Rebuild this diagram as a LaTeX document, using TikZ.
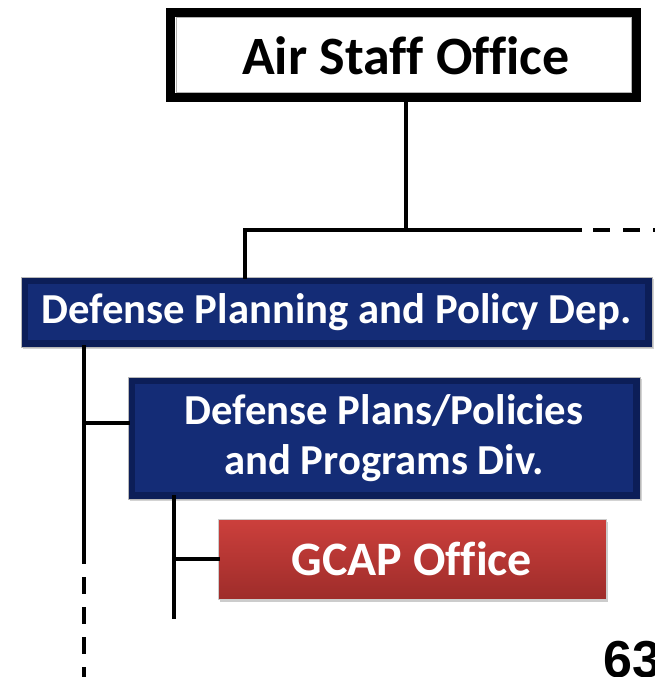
\documentclass[tikz,border=0pt]{standalone}
\usepackage{fontspec}
\setmainfont{Carlito}[Ligatures=NoCommon]
\newfontfamily\arialfont{Liberation Sans}
\usetikzlibrary{shadows}
\definecolor{navyD}{RGB}{12,30,88}
\definecolor{navyM}{RGB}{20,44,118}
\definecolor{redT}{RGB}{204,64,60}
\definecolor{redB}{RGB}{158,44,42}
\tikzset{
  conn/.style={line width=4pt, line cap=rect},
  dashconn/.style={line width=4pt, dash pattern=on 17pt off 13pt},
  bluebox/.style={draw=gray!55, line width=0.8pt, fill=navyD, text=white,
    font=\bfseries\fontsize{42.7}{50}\selectfont, align=center, inner sep=0pt,
    drop shadow={shadow xshift=1.5pt, shadow yshift=-2pt, opacity=0.35},
    path picture={\fill[navyM] ([xshift=7pt,yshift=-7pt]path picture bounding box.north west)
      rectangle ([xshift=-7pt,yshift=7pt]path picture bounding box.south east);}},
  redbox/.style={draw=gray!40, line width=0.6pt, top color=redT, bottom color=redB,
    text=white, font=\bfseries\fontsize{48}{52}\selectfont, inner sep=0pt,
    drop shadow={shadow xshift=2pt, shadow yshift=-3pt, opacity=0.4}},
  framebox/.style={draw=black, line width=9pt, fill=white, text=black, inner sep=0pt}
}
\begin{document}
\begin{tikzpicture}[x=1pt,y=-1pt]
\useasboundingbox (0,0) rectangle (654,677);
% Air Staff Office
\node[framebox, minimum width=466pt, minimum height=85pt] (aso) at (403.5,55) {};
\draw[gray!60, line width=1pt] (176,18) rectangle (631,92);
\node[font=\bfseries\fontsize{54}{60}\selectfont, inner sep=0pt] (asotext) at (406,56) {Air Staff Office};
% Dep
\node[bluebox, minimum width=631pt, minimum height=70pt] (dep) at (336.5,312) {Defense Planning and Policy Dep.};
% Div
\node[bluebox, minimum width=512pt, minimum height=122pt] (div) at (384,438) {Defense Plans/Policies\\and Programs Div.};
% GCAP
\node[redbox, minimum width=388pt, minimum height=80pt] (gcap) at (412,559) {GCAP Office};
% page number
\node[font=\arialfont\bfseries\fontsize{52}{52}\selectfont, anchor=north west, inner sep=0pt] (pg) at (603,641) {63};
% coordinates
\coordinate (j1) at (406,230);
\coordinate (jl) at (245,230);
\coordinate (jr) at (580,230);
\coordinate (jd) at (593,230);
\coordinate (jre) at (660,230);
\coordinate (v1a) at (84,347);
\coordinate (v1b) at (84,562);
\coordinate (v1c) at (84,577);
\coordinate (v1d) at (84,680);
\coordinate (b1) at (84,423);
\coordinate (b1e) at (128,423);
\coordinate (v2a) at (174,497);
\coordinate (v2b) at (174,617);
\coordinate (b2) at (174,559);
% connectors
\draw[conn] (aso.south -| j1) -- (j1);
\draw[conn] (jr) -- (jl) -- (dep.north -| jl);
\draw[dashconn] (jd) -- (jre);
\draw[conn] (v1a) -- (v1b);
\draw[dashconn] (v1c) -- (v1d);
\draw[conn] (b1) -- (b1 -| div.west);
\draw[conn] (v2a) -- (v2b);
\draw[conn] (b2) -- (gcap.west);
\end{tikzpicture}
\end{document}
